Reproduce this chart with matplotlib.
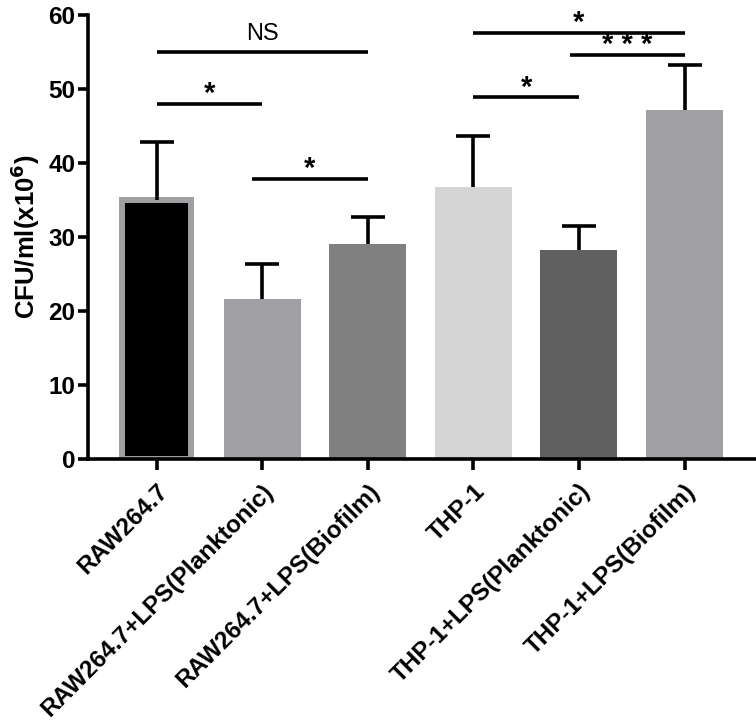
import matplotlib.pyplot as plt
import numpy as np

plt.rcParams['font.family'] = ['Liberation Sans', 'DejaVu Sans']

# data
groups = ['RAW264.7', 'RAW264.7+LPS(Planktonic)', 'RAW264.7+LPS(Biofilm)',
          'THP-1', 'THP-1+LPS(Planktonic)', 'THP-1+LPS(Biofilm)']
means = [35.0, 21.6, 29.0, 36.8, 28.2, 47.2]
sd = [7.9, 4.8, 3.7, 6.8, 3.3, 6.0]
colors = ['#000000', '#a0a0a4', '#808080', '#d4d4d4', '#606060', '#a0a0a4']

# significance brackets: (left, right, height, label)
brackets = [(0, 2, 55.0, 'NS'), (0, 1, 48.0, '*'), (0.9, 2, 37.9, '*'),
            (3, 5, 57.6, '*'), (3.92, 5, 54.6, '* * *'), (3, 4, 48.9, '*')]

fig = plt.figure(figsize=(7.56, 7.22), dpi=100)
ax = fig.add_axes([0.1164, 0.3643, 0.8826, 0.6148])

x = np.arange(len(groups))
bars = ax.bar(x, means, width=0.73, color=colors, zorder=2)
bars[0].set_edgecolor('#a0a0a4')
bars[0].set_linewidth(4.3)
bars[0].set_width(0.65)
bars[0].set_x(-0.325)

eb = ax.errorbar(x, means, yerr=[np.zeros(len(sd)), sd], fmt='none', ecolor='black',
                 elinewidth=2.6, capsize=12.5, capthick=2.6, zorder=3)
# only the upper cap is shown
eb[1][0].set_visible(False)

for l, r, h, lab in brackets:
    ax.plot([l, r], [h, h], color='black', lw=2.6, solid_capstyle='butt', clip_on=False)
    if lab == 'NS':
        ax.text((l + r) / 2, h + 0.9, lab, ha='center', va='bottom', fontsize=17, clip_on=False)
    else:
        ax.text((l + r) / 2, h - 0.6, lab, ha='center', va='bottom', fontsize=21,
                fontweight='bold', clip_on=False)

ax.set_xlim(-0.65, 5.67)
ax.set_ylim(0, 60)
ax.set_yticks(range(0, 61, 10))
ax.set_xticks(x)
ax.set_xticklabels(groups, rotation=45, ha='right', rotation_mode='anchor', fontweight='bold', fontsize=17.5)
for t in ax.get_yticklabels():
    t.set_fontweight('bold')
    t.set_fontsize(17.5)
ax.set_ylabel('CFU/ml(x10$^\\mathbf{6}$)', fontweight='bold', fontsize=18.5, labelpad=5)

for s in ['top', 'right']:
    ax.spines[s].set_visible(False)
for s in ['left', 'bottom']:
    ax.spines[s].set_linewidth(2.6)
ax.tick_params(axis='y', width=2.6, length=7, pad=2)
ax.tick_params(axis='x', width=2.6, length=8, pad=7)

fig.savefig('out.png', dpi=100)
